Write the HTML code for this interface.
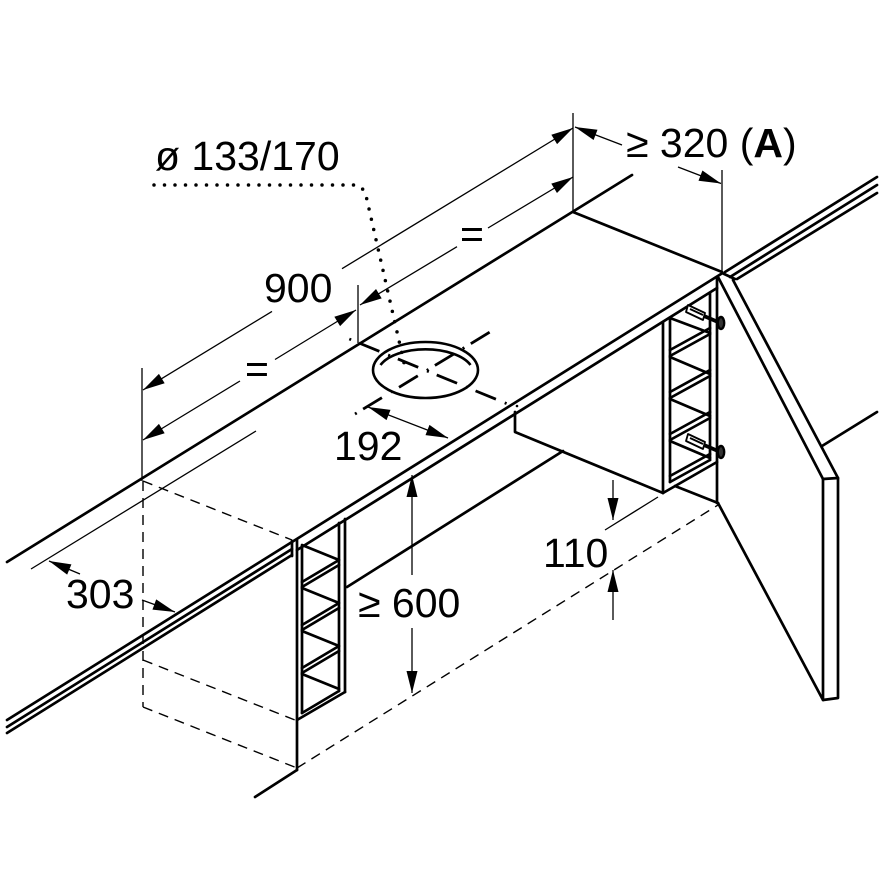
<!DOCTYPE html>
<html><head><meta charset="utf-8"><style>
html,body{margin:0;padding:0;background:#fff;}
svg{display:block;}
text{font-family:"Liberation Sans",Arial,sans-serif;font-size:41px;fill:#000;}
</style></head><body>
<svg width="880" height="880" viewBox="0 0 880 880" xmlns="http://www.w3.org/2000/svg">
<defs>
<marker id="ah" markerUnits="userSpaceOnUse" markerWidth="24" markerHeight="14" viewBox="0 -7 24 14" refX="22" refY="0" orient="auto-start-reverse" overflow="visible">
<path d="M0,-5.5 L22,0 L0,5.5 Z" fill="#000" stroke="none"/>
</marker>
</defs>
<rect width="880" height="880" fill="#fff"/>

<!-- dashed hidden lines -->
<g stroke="#000" fill="none" stroke-width="1.4" stroke-dasharray="10 7">
<path d="M143,481 L292,540"/>
<path d="M143,481 L143,707"/>
<path d="M143,660 L295,720"/>
<path d="M143,707 L297,768"/>
<path d="M297,768 L718,505"/>
</g>

<!-- thin extension lines -->
<g stroke="#000" fill="none" stroke-width="1.3">
<path d="M142,368 L142,481"/>
<path d="M358,285 L358,343"/>
<path d="M573,113 L573,212"/>
<path d="M722,170 L722,272"/>
<path d="M605,530 L658,497"/>
<path d="M31,569 L256,431"/>
</g>

<!-- dimension lines with arrows -->
<g stroke="#000" fill="none" stroke-width="1.3">
<path d="M143,390 L272,311.4" marker-start="url(#ah)"/>
<path d="M342,268.7 L573,128" marker-end="url(#ah)"/>
<path d="M143,440 L240,381" marker-start="url(#ah)"/>
<path d="M275,359.5 L356,310" marker-end="url(#ah)"/>
<path d="M360,305 L457,246.7" marker-start="url(#ah)"/>
<path d="M488,228 L573,177" marker-end="url(#ah)"/>
<path d="M622,145 L575,127" marker-end="url(#ah)"/>
<path d="M678,167 L721,183.5" marker-end="url(#ah)"/>
<path d="M80,574 L49,561" marker-end="url(#ah)"/>
<path d="M142,600 L175,612" marker-end="url(#ah)"/>
<path d="M368,407 L448,438" marker-start="url(#ah)" marker-end="url(#ah)"/>
<path d="M412,475 L412,575" marker-start="url(#ah)"/>
<path d="M412,628 L412,693" marker-end="url(#ah)"/>
<path d="M613,480 L613,520" marker-end="url(#ah)"/>
<path d="M613,620 L613,570" marker-end="url(#ah)"/>
</g>

<!-- object lines -->
<g stroke="#000" fill="none" stroke-width="2.7" stroke-linecap="round" stroke-linejoin="round">
<path d="M7,562 L632,175"/>
<path d="M7,720 L721,274"/>
<path d="M7,727 L292,549"/>
<path d="M7,733 L292,555"/>
<path d="M292,541 L292,556"/>
<path d="M297,550 L717,288"/>
<path d="M573,212 L722,272"/>
<path d="M725,272 L877,177"/>
<path d="M730,277 L877,185"/>
<path d="M737,279 L877,193"/>
<path d="M822,446 L877,412"/>
<path d="M722,273 L735,279"/>
<!-- door -->
<path d="M718,277 L823,479 L823,700 L718,503"/>
<path d="M733,280 L838,478 L838,698 L823,700"/>
<path d="M823,479 L838,478"/>
<path d="M717,277 L717,503"/>
<path d="M675,486 L718,503"/>
<!-- hood box / lower edges -->
<path d="M515,412 L515,432 L663,493"/>
<path d="M347,587 L563,451"/>
<path d="M297,770 L255,797"/>
<!-- left ladder -->
<path d="M297,540 L297,770"/>
<path d="M302,546 L302,713"/>
<path d="M339,523 L339,691"/>
<path d="M345,519 L345,692"/>
<path d="M297,720 L345,692"/>
<path d="M302,713 L339,691"/>
<path d="M302,545 L339,560 M302,582 L339,560 M302,587 L339,565"/>
<path d="M302,588 L339,603 M302,625 L339,603 M302,630 L339,608"/>
<path d="M302,631 L339,646 M302,668 L339,646 M302,673 L339,651"/>
<path d="M302,674 L339,689"/>
<!-- right ladder -->
<path d="M663,322 L663,493"/>
<path d="M670,318 L670,482"/>
<path d="M710,293 L710,460"/>
<path d="M663,493 L717,462"/>
<path d="M670,318 L710,333 M670,350 L710,328 M670,356 L710,334"/>
<path d="M670,357 L710,374 M670,392 L710,370 M670,398 L710,376"/>
<path d="M670,399 L710,416 M670,434 L710,412 M670,440 L710,418"/>
<path d="M670,441 L710,458 M670,476 L710,454 M670,482 L710,460"/>
</g>

<!-- brackets and screws -->
<g stroke="#000" stroke-width="1.8" fill="#fff" stroke-linejoin="round">
<polygon points="688,305 705,313 703,320 686,312"/>
<path d="M690,309 L703,315" fill="none"/>
<polygon points="688,434 705,442 703,449 686,441"/>
<path d="M690,438 L703,444" fill="none"/>
</g>
<g stroke="#000">
<path d="M704,316 L718,322" stroke-width="3.8" fill="none"/>
<ellipse cx="721" cy="323" rx="3.2" ry="6" stroke-width="2.4" fill="#333"/>
<path d="M704,445 L718,451" stroke-width="3.8" fill="none"/>
<ellipse cx="721" cy="452" rx="3.2" ry="6" stroke-width="2.4" fill="#333"/>
</g>

<!-- hole -->
<g stroke="#000" fill="none" stroke-width="2.6">
<ellipse cx="425.5" cy="370" rx="52.5" ry="28"/>
<path d="M380.5,365 A48,24 0 0 1 470.5,365"/>
</g>

<!-- center lines -->
<g stroke="#000" fill="none" stroke-width="2.8">
<path d="M349.3,339 L510,405" stroke-dasharray="2 8.5 22 9.5"/>
<path d="M355,414 L490,332" stroke-dasharray="2 7.5 22 10.5"/>
</g>
<circle cx="517" cy="406" r="1.3" fill="#000"/>

<!-- dotted leader -->
<path d="M154,185 L356,185 Q364,186 367,200 L405,367" stroke="#000" fill="none" stroke-width="3.5" stroke-linecap="round" stroke-dasharray="0 10.5"/>

<!-- texts -->
<text x="155" y="170">ø 133/170</text>
<text x="264" y="302">900</text>
<text x="257" y="383" text-anchor="middle">=</text>
<text x="472" y="248" text-anchor="middle">=</text>
<text x="626" y="157">≥ 320 (<tspan font-weight="bold">A</tspan>)</text>
<text x="334" y="460">192</text>
<text x="66" y="608">303</text>
<text x="358" y="617">≥ 600</text>
<text x="543" y="567">110</text>
</svg>
</body></html>
